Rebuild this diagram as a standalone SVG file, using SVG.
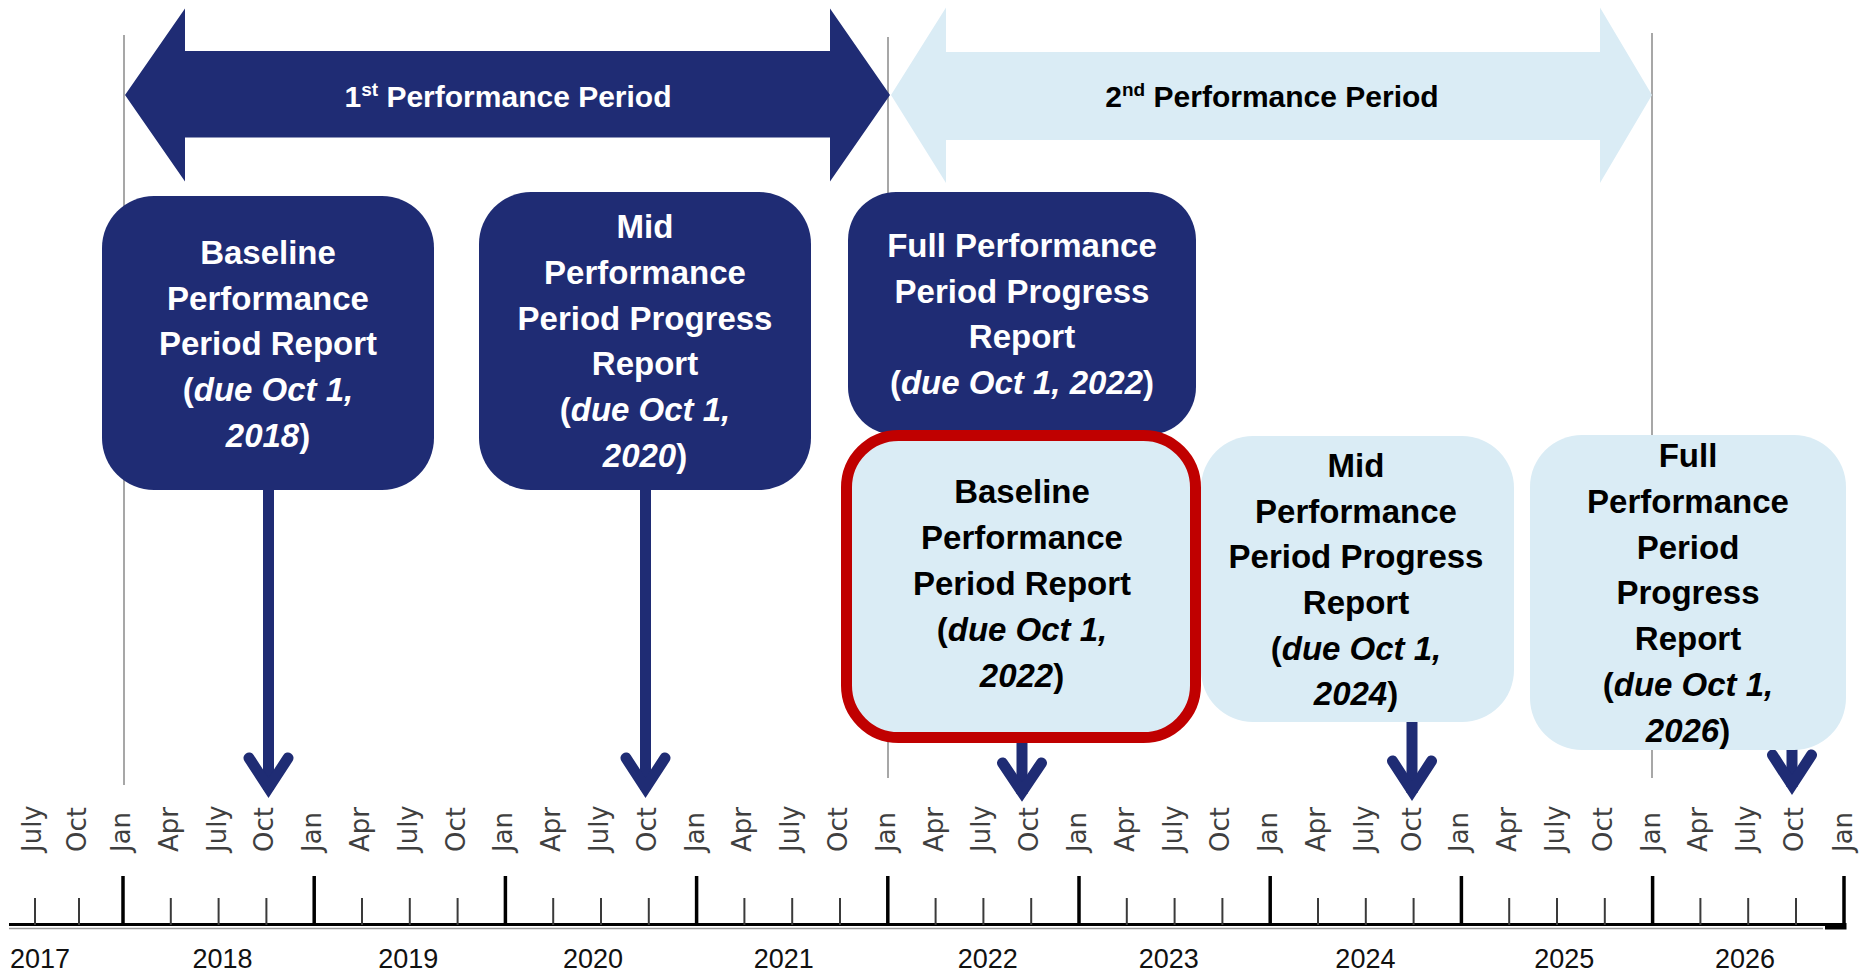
<svg xmlns="http://www.w3.org/2000/svg" width="1859" height="977" viewBox="0 0 1859 977">
<style>
.bg{fill:#ffffff}
.vline{stroke:#8a8a8a;stroke-width:1.5;fill:none}
.navy{fill:#1f2c74}
.light{fill:#daecf5}
.red{fill:#daecf5;stroke:#c00000;stroke-width:11}
.shaft{stroke:#1f2c74;stroke-width:11;fill:none}
.head{stroke:#1f2c74;stroke-width:11;fill:none;stroke-linejoin:miter;stroke-miterlimit:10;stroke-linecap:round}
.pw{font-family:"Liberation Sans",Arial,sans-serif;font-weight:bold;font-size:30px;fill:#ffffff;text-anchor:middle}
.pb{font-family:"Liberation Sans",Arial,sans-serif;font-weight:bold;font-size:30px;fill:#000000;text-anchor:middle}
.wt{font-family:"Liberation Sans",Arial,sans-serif;font-weight:bold;font-size:33px;fill:#ffffff;text-anchor:middle}
.bt{font-family:"Liberation Sans",Arial,sans-serif;font-weight:bold;font-size:33px;fill:#000000;text-anchor:middle}
.it{font-style:italic}
.sup{font-size:19px}
.mon{font-family:"DejaVu Sans",Verdana,sans-serif;font-size:26px;fill:#3f3f3f}
.yr{font-family:"Liberation Sans",Arial,sans-serif;font-size:27px;fill:#111111;text-anchor:middle}
.major{stroke:#000000;stroke-width:3.5}
.minor{stroke:#3a3a3a;stroke-width:2}
</style>
<rect class="bg" x="0" y="0" width="1859" height="977"/>

<g id="guides">
<line class="vline" x1="124" y1="35" x2="124" y2="785"/>
<line class="vline" x1="888" y1="37" x2="888" y2="778"/>
<line class="vline" x1="1652" y1="33" x2="1652" y2="778"/>
</g>

<g id="period1">
<polygon class="navy" points="125,95 185,8.5 185,51 830,51 830,8.5 890,95 830,181.5 830,137.5 185,137.5 185,181.5"/>
<text class="pw" x="508" y="107">1<tspan class="sup" dy="-11">st</tspan><tspan dy="11"> Performance Period</tspan></text>
</g>

<g id="period2">
<polygon class="light" points="891,95 946,7.5 946,52 1600,52 1600,7.5 1652,95 1600,183 1600,140 946,140 946,183"/>
<text class="pb" x="1272" y="107">2<tspan class="sup" dy="-11">nd</tspan><tspan dy="11"> Performance Period</tspan></text>
</g>

<g id="connectors">
<line class="shaft" x1="268.5" y1="488" x2="268.5" y2="790"/>
<path class="head" d="M249,758 L268.5,788 L288,758"/>
<line class="shaft" x1="645.5" y1="488" x2="645.5" y2="790"/>
<path class="head" d="M626,758 L645.5,788 L665,758"/>
<line class="shaft" x1="1022" y1="732" x2="1022" y2="794"/>
<path class="head" d="M1002.5,763 L1022,792 L1041.5,763"/>
<line class="shaft" x1="1412" y1="720" x2="1412" y2="793"/>
<path class="head" d="M1392.5,761 L1412,791 L1431.5,761"/>
<line class="shaft" x1="1792" y1="720" x2="1792" y2="787"/>
<path class="head" d="M1772.5,755 L1792,785 L1811.5,755"/>
</g>

<g id="box-baseline-1">
<rect class="navy" x="102" y="196" width="332" height="294" rx="52" ry="52"/>
<text class="wt" x="268" y="264">Baseline</text>
<text class="wt" x="268" y="309.7">Performance</text>
<text class="wt" x="268" y="355.4">Period Report</text>
<text class="wt" x="268" y="401">(<tspan class="it">due Oct 1,</tspan></text>
<text class="wt" x="268" y="446.8"><tspan class="it">2018</tspan>)</text>
</g>

<g id="box-mid-1">
<rect class="navy" x="479" y="192" width="332" height="298" rx="52" ry="52"/>
<text class="wt" x="645" y="238">Mid</text>
<text class="wt" x="645" y="283.8">Performance</text>
<text class="wt" x="645" y="329.6">Period Progress</text>
<text class="wt" x="645" y="375.4">Report</text>
<text class="wt" x="645" y="421.2">(<tspan class="it">due Oct 1,</tspan></text>
<text class="wt" x="645" y="467"><tspan class="it">2020</tspan>)</text>
</g>

<g id="box-full-1">
<rect class="navy" x="848" y="192" width="348" height="243" rx="48" ry="48"/>
<text class="wt" x="1022" y="257">Full Performance</text>
<text class="wt" x="1022" y="302.5">Period Progress</text>
<text class="wt" x="1022" y="348">Report</text>
<text class="wt" x="1022" y="394">(<tspan class="it">due Oct 1, 2022</tspan>)</text>
</g>

<g id="box-baseline-2">
<rect class="red" x="846.5" y="435.5" width="349" height="302" rx="52" ry="52"/>
<text class="bt" x="1022" y="503">Baseline</text>
<text class="bt" x="1022" y="549">Performance</text>
<text class="bt" x="1022" y="595">Period Report</text>
<text class="bt" x="1022" y="641">(<tspan class="it">due Oct 1,</tspan></text>
<text class="bt" x="1022" y="687"><tspan class="it">2022</tspan>)</text>
</g>

<g id="box-mid-2">
<rect class="light" x="1201" y="436" width="313" height="286" rx="52" ry="52"/>
<text class="bt" x="1356" y="477">Mid</text>
<text class="bt" x="1356" y="522.5">Performance</text>
<text class="bt" x="1356" y="568">Period Progress</text>
<text class="bt" x="1356" y="614">Report</text>
<text class="bt" x="1356" y="660">(<tspan class="it">due Oct 1,</tspan></text>
<text class="bt" x="1356" y="705"><tspan class="it">2024</tspan>)</text>
</g>

<g id="box-full-2">
<rect class="light" x="1530" y="435" width="316" height="315" rx="52" ry="52"/>
<text class="bt" x="1688" y="467">Full</text>
<text class="bt" x="1688" y="512.5">Performance</text>
<text class="bt" x="1688" y="558.5">Period</text>
<text class="bt" x="1688" y="604">Progress</text>
<text class="bt" x="1688" y="650">Report</text>
<text class="bt" x="1688" y="696">(<tspan class="it">due Oct 1,</tspan></text>
<text class="bt" x="1688" y="742"><tspan class="it">2026</tspan>)</text>
</g>

<g id="timeline">
<line x1="9" y1="928.5" x2="1823" y2="928.5" stroke="#9a9a9a" stroke-width="1.6"/>
<line x1="9" y1="924.5" x2="1846" y2="924.5" stroke="#000" stroke-width="3"/>
<rect x="1825" y="923" width="21.5" height="6.5" fill="#000"/>
<line class="minor" x1="35" y1="898" x2="35" y2="925"/>
<line class="minor" x1="79" y1="898" x2="79" y2="925"/>
<line class="major" x1="123" y1="876" x2="123" y2="925"/>
<line class="minor" x1="170.8" y1="898" x2="170.8" y2="925"/>
<line class="minor" x1="218.6" y1="898" x2="218.6" y2="925"/>
<line class="minor" x1="266.4" y1="898" x2="266.4" y2="925"/>
<line class="major" x1="314.2" y1="876" x2="314.2" y2="925"/>
<line class="minor" x1="362" y1="898" x2="362" y2="925"/>
<line class="minor" x1="409.8" y1="898" x2="409.8" y2="925"/>
<line class="minor" x1="457.6" y1="898" x2="457.6" y2="925"/>
<line class="major" x1="505.4" y1="876" x2="505.4" y2="925"/>
<line class="minor" x1="553.2" y1="898" x2="553.2" y2="925"/>
<line class="minor" x1="601" y1="898" x2="601" y2="925"/>
<line class="minor" x1="648.8" y1="898" x2="648.8" y2="925"/>
<line class="major" x1="696.6" y1="876" x2="696.6" y2="925"/>
<line class="minor" x1="744.4" y1="898" x2="744.4" y2="925"/>
<line class="minor" x1="792.2" y1="898" x2="792.2" y2="925"/>
<line class="minor" x1="840" y1="898" x2="840" y2="925"/>
<line class="major" x1="887.8" y1="876" x2="887.8" y2="925"/>
<line class="minor" x1="935.6" y1="898" x2="935.6" y2="925"/>
<line class="minor" x1="983.4" y1="898" x2="983.4" y2="925"/>
<line class="minor" x1="1031.2" y1="898" x2="1031.2" y2="925"/>
<line class="major" x1="1079" y1="876" x2="1079" y2="925"/>
<line class="minor" x1="1126.8" y1="898" x2="1126.8" y2="925"/>
<line class="minor" x1="1174.6" y1="898" x2="1174.6" y2="925"/>
<line class="minor" x1="1222.4" y1="898" x2="1222.4" y2="925"/>
<line class="major" x1="1270.2" y1="876" x2="1270.2" y2="925"/>
<line class="minor" x1="1318" y1="898" x2="1318" y2="925"/>
<line class="minor" x1="1365.8" y1="898" x2="1365.8" y2="925"/>
<line class="minor" x1="1413.6" y1="898" x2="1413.6" y2="925"/>
<line class="major" x1="1461.4" y1="876" x2="1461.4" y2="925"/>
<line class="minor" x1="1509.2" y1="898" x2="1509.2" y2="925"/>
<line class="minor" x1="1557" y1="898" x2="1557" y2="925"/>
<line class="minor" x1="1604.8" y1="898" x2="1604.8" y2="925"/>
<line class="major" x1="1652.6" y1="876" x2="1652.6" y2="925"/>
<line class="minor" x1="1700.4" y1="898" x2="1700.4" y2="925"/>
<line class="minor" x1="1748.2" y1="898" x2="1748.2" y2="925"/>
<line class="minor" x1="1796" y1="898" x2="1796" y2="925"/>
<line class="major" x1="1844" y1="876" x2="1844" y2="929"/>
</g>

<g id="months" class="mon">
<text transform="translate(41,852) rotate(-90)">July</text>
<text transform="translate(86,852) rotate(-90)">Oct</text>
<text transform="translate(130,852) rotate(-90)">Jan</text>
<text transform="translate(177.8,852) rotate(-90)">Apr</text>
<text transform="translate(225.6,852) rotate(-90)">July</text>
<text transform="translate(273.4,852) rotate(-90)">Oct</text>
<text transform="translate(321.2,852) rotate(-90)">Jan</text>
<text transform="translate(369,852) rotate(-90)">Apr</text>
<text transform="translate(416.8,852) rotate(-90)">July</text>
<text transform="translate(464.6,852) rotate(-90)">Oct</text>
<text transform="translate(512.4,852) rotate(-90)">Jan</text>
<text transform="translate(560.2,852) rotate(-90)">Apr</text>
<text transform="translate(608,852) rotate(-90)">July</text>
<text transform="translate(655.8,852) rotate(-90)">Oct</text>
<text transform="translate(703.6,852) rotate(-90)">Jan</text>
<text transform="translate(751.4,852) rotate(-90)">Apr</text>
<text transform="translate(799.2,852) rotate(-90)">July</text>
<text transform="translate(847,852) rotate(-90)">Oct</text>
<text transform="translate(894.8,852) rotate(-90)">Jan</text>
<text transform="translate(942.6,852) rotate(-90)">Apr</text>
<text transform="translate(990.4,852) rotate(-90)">July</text>
<text transform="translate(1038.2,852) rotate(-90)">Oct</text>
<text transform="translate(1086,852) rotate(-90)">Jan</text>
<text transform="translate(1133.8,852) rotate(-90)">Apr</text>
<text transform="translate(1181.6,852) rotate(-90)">July</text>
<text transform="translate(1229.4,852) rotate(-90)">Oct</text>
<text transform="translate(1277.2,852) rotate(-90)">Jan</text>
<text transform="translate(1325,852) rotate(-90)">Apr</text>
<text transform="translate(1372.8,852) rotate(-90)">July</text>
<text transform="translate(1420.6,852) rotate(-90)">Oct</text>
<text transform="translate(1468.4,852) rotate(-90)">Jan</text>
<text transform="translate(1516.2,852) rotate(-90)">Apr</text>
<text transform="translate(1564,852) rotate(-90)">July</text>
<text transform="translate(1611.8,852) rotate(-90)">Oct</text>
<text transform="translate(1659.6,852) rotate(-90)">Jan</text>
<text transform="translate(1707.4,852) rotate(-90)">Apr</text>
<text transform="translate(1755.2,852) rotate(-90)">July</text>
<text transform="translate(1803,852) rotate(-90)">Oct</text>
<text transform="translate(1852,852) rotate(-90)">Jan</text>
</g>

<g id="years" class="yr">
<text x="40" y="968">2017</text>
<text x="222.5" y="968">2018</text>
<text x="408.3" y="968">2019</text>
<text x="593" y="968">2020</text>
<text x="783.7" y="968">2021</text>
<text x="987.7" y="968">2022</text>
<text x="1168.8" y="968">2023</text>
<text x="1365.4" y="968">2024</text>
<text x="1564.3" y="968">2025</text>
<text x="1745" y="968">2026</text>
</g>
</svg>
